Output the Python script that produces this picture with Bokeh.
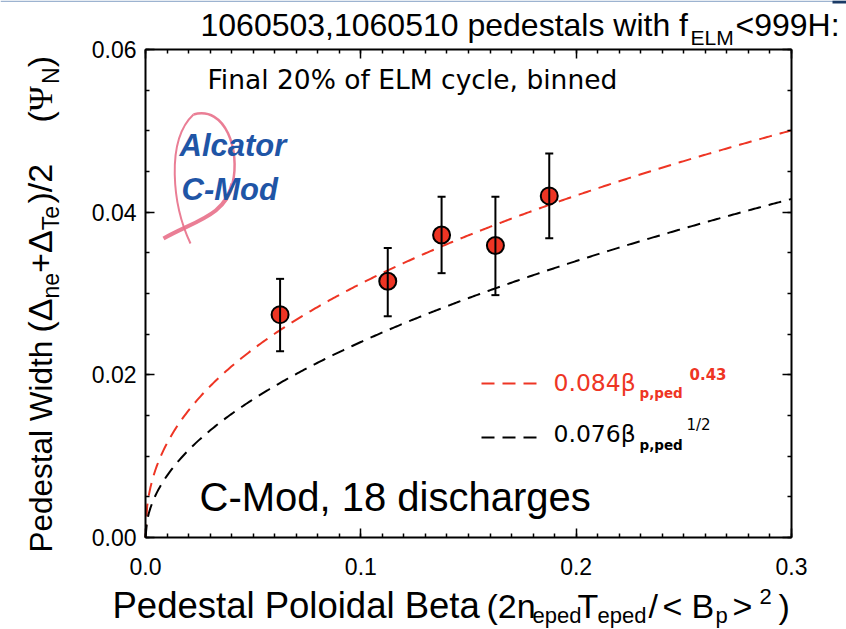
import numpy as np
from bokeh.plotting import figure
from bokeh.models import (Label, LinearAxis, Range1d, FixedTicker, PrintfTickFormatter,
                          CustomJSTickFormatter, Whisker, TeeHead, ColumnDataSource)
from bokeh.embed import file_html
from bokeh.resources import INLINE

# ---------------- data ----------------
beta_ped = [0.0625, 0.1125, 0.1375, 0.1625, 0.1875]
width_mean = [0.0274, 0.0315, 0.0372, 0.0359, 0.0420]
width_hi = [0.0318, 0.0356, 0.0419, 0.0419, 0.0472]
width_lo = [0.0229, 0.0272, 0.0325, 0.0298, 0.0368]
fit_coef = [0.084, 0.076]
fit_power = [0.43, 0.5]
x_major = [0.0, 0.1, 0.2, 0.3]
y_major = [0.00, 0.02, 0.04, 0.06]
x_minor_step = 0.01
y_minor_step = 0.005

# ---------------- layout ----------------
W, H = 846, 629
FL, FR, FT, FB = 145, 791, 49, 537      # plot box in page pixels
XMAX, YMAX = 0.3, 0.06
RED = "#ee3524"
BLUE = "#1f55a6"
PINK = "#e8708a"
K = 0.39  # baseline correction (fraction of font size)

# approximate advance widths (em) of Liberation Sans / Serif, used to chain text pieces
ADV = {'(': 0.333, ')': 0.333, 'Δ': 0.668, '+': 0.584, '/': 0.278, '2': 0.556,
       'n': 0.556, 'e': 0.556, 'T': 0.611, 'N': 0.722, ' ': 0.278, 'Ψ': 0.80}


def tw(text, size):
    return sum(ADV.get(ch, 0.556) for ch in text) * size


def X(px):
    return (px - FL) / (FR - FL) * XMAX


def Y(py):
    return (FB - py) / (FB - FT) * YMAX


p = figure(width=W, height=H, x_range=Range1d(X(0), X(W)), y_range=Range1d(Y(H), Y(0)),
           output_backend="svg", toolbar_location=None,
           min_border_left=0, min_border_right=0, min_border_top=0, min_border_bottom=0)
p.xgrid.visible = False
p.ygrid.visible = False
p.outline_line_color = None
p.background_fill_color = "white"
p.border_fill_color = "white"

xt = FixedTicker(ticks=x_major,
                 minor_ticks=[round(i * x_minor_step, 4) for i in range(int(round(XMAX / x_minor_step)) + 1)])
yt = FixedTicker(ticks=y_major,
                 minor_ticks=[round(i * y_minor_step, 4) for i in range(int(round(YMAX / y_minor_step)) + 1)])


def style_axis(ax):
    ax.axis_line_width = 2
    ax.axis_line_color = "black"
    ax.major_tick_in = 9
    ax.major_tick_out = 0
    ax.minor_tick_in = 4
    ax.minor_tick_out = 0
    ax.major_tick_line_width = 1.5
    ax.minor_tick_line_width = 1.5
    ax.major_tick_line_color = "black"
    ax.minor_tick_line_color = "black"


xa = p.xaxis[0]
ya = p.yaxis[0]
xa.ticker = xt
ya.ticker = yt
xa.fixed_location = 0
ya.fixed_location = 0
xa.bounds = (0, XMAX)
ya.bounds = (0, YMAX)
xa.formatter = PrintfTickFormatter(format="%.1f")
ya.formatter = PrintfTickFormatter(format="%.2f")
style_axis(xa)
style_axis(ya)
xa.major_label_text_font = "Liberation Sans"
xa.major_label_text_font_size = "23px"
xa.major_label_standoff = 20
xa.major_label_text_color = "black"
ya.major_label_text_font = "Liberation Sans"
ya.major_label_text_font_size = "23px"
ya.major_label_standoff = 9
ya.major_label_text_color = "black"

blank = CustomJSTickFormatter(code="return ''")
top = LinearAxis(ticker=xt, formatter=blank, major_label_standoff=0,
                 fixed_location=YMAX, bounds=(0, XMAX))
right = LinearAxis(ticker=yt, formatter=blank, major_label_standoff=0,
                   fixed_location=XMAX, bounds=(0, YMAX))
style_axis(top)
style_axis(right)
p.add_layout(top, "above")
p.add_layout(right, "right")

# slide decoration at the top edge
p.line([X(0), X(W)], [Y(0.8), Y(0.8)], line_color="#9db3d0", line_width=1.5)
p.quad(left=[X(832)], right=[X(W)], top=[Y(0)], bottom=[Y(3)], fill_color="#1b3a66",
       line_color=None)

# ---------------- fits ----------------
beta_grid = np.linspace(0, XMAX, 400)
for c, pw, col in zip(fit_coef, fit_power, [RED, "black"]):
    p.line(beta_grid, c * beta_grid ** pw, line_color=col, line_width=2, line_dash="13 8")

# ---------------- data points ----------------
src = ColumnDataSource(dict(x=beta_ped, y=width_mean, hi=width_hi, lo=width_lo))
wh = Whisker(source=src, base="x", upper="hi", lower="lo", line_width=2, line_color="black",
             upper_head=TeeHead(size=8, line_width=2, line_color="black"),
             lower_head=TeeHead(size=8, line_width=2, line_color="black"))
wh.level = "glyph"
p.add_layout(wh)
p.scatter("x", "y", source=src, size=17, fill_color=RED, line_color="black", line_width=2)


# ---------------- texts ----------------
def lab(text, px, py, size, font="Liberation Sans", color="black", style="normal", rot=False):
    if rot:
        px = px - K * size
    else:
        py = py - K * size
    p.add_layout(Label(x=X(px), y=Y(py), text=text, text_font=font,
                       text_font_size=f"{size}px", text_color=color, text_font_style=style,
                       angle=(np.pi / 2 if rot else 0.0), angle_units="rad",
                       text_align="left", text_baseline="alphabetic"))


# title
lab("1060503,1060510 pedestals with f", 200, 37, 32)
lab("ELM", 690, 45, 21)
lab("<999H:", 735, 37, 32)

lab("Final 20% of ELM cycle, binned", 207, 89, 26.5, font="DejaVu Sans")
lab("C-Mod, 18 discharges", 199, 512, 40)

# logo
lab("Alcator", 179, 157, 31, color=BLUE, style="bold italic")
lab("C-Mod", 181, 201, 31, color=BLUE, style="bold italic")
ribbon = [
    ((190, 243), (172, 205), (165, 140), (193, 114), 2.0),
    ((193, 114), (225, 105), (240, 150), (232, 183), 2.5),
    ((232, 183), (225, 215), (195, 220), (163, 238), 4.0),
]
for (a, b, c, d, lw) in ribbon:
    p.bezier(x0=[X(a[0])], y0=[Y(a[1])], cx0=[X(b[0])], cy0=[Y(b[1])],
             cx1=[X(c[0])], cy1=[Y(c[1])], x1=[X(d[0])], y1=[Y(d[1])],
             line_color=PINK, line_width=lw, line_alpha=0.9)

# legend
for col, ly in [(RED, 383), ("black", 437)]:
    p.line([X(481), X(537)], [Y(ly), Y(ly)], line_color=col, line_width=2, line_dash="13 8")
lab("0.084β", 553, 392, 23.5, font="DejaVu Sans", color=RED)
lab("p,ped", 639, 398, 13.5, font="DejaVu Sans", color=RED, style="bold")
lab("0.43", 689, 379, 15, font="DejaVu Sans", color=RED, style="bold")
lab("0.076β", 553, 443, 23.5, font="DejaVu Sans")
lab("p,ped", 639, 450, 13.5, font="DejaVu Sans", style="bold")
lab("1/2", 686, 430, 15, font="DejaVu Sans")

# x-axis title
XB = 619
lab("Pedestal Poloidal Beta", 112, XB, 36.5)
XM, XS = 34, 22
xpieces = [("(2n", 486, 0, XM), ("eped", 532, 5, XS), ("T", 577, 0, XM),
           ("eped", 597, 5, XS), ("/", 648, 0, XM), ("<", 662, 0, XM), ("B", 691, 0, XM),
           ("p", 715, 5, XS), (">", 732, 0, XM), ("2", 759, -14, XS), (")", 778, 0, XM)]
for t, px, dy, sz in xpieces:
    lab(t, px, XB + dy, sz)

# y-axis title (rotated, reading upwards): pieces chained upwards
BX = 53
lab("Pedestal Width", BX, 552, 31.5, rot=True)
YM, YS = 34, 23
groups = [
    (332, [("(Δ", 0, YM, "Liberation Sans"), ("ne", 6, YS, "Liberation Sans"),
           ("+", 0, YM, "Liberation Sans"), ("Δ", 0, YM, "Liberation Sans"),
           ("Te", 6, YS, "Liberation Sans"), (")/2", 0, YM, "Liberation Sans")]),
    (122, [("(", 0, YM, "Liberation Sans"), ("Ψ", 0, YM, "Liberation Serif"),
           ("N", 6, YS, "Liberation Sans"), (")", 0, YM, "Liberation Sans")]),
]
for start, pieces in groups:
    pos = start
    for t, dx, sz, fnt in pieces:
        lab(t, BX + dx, pos, sz, font=fnt, rot=True)
        pos -= tw(t, sz)

open("out.html", "w").write(file_html(p, INLINE))
